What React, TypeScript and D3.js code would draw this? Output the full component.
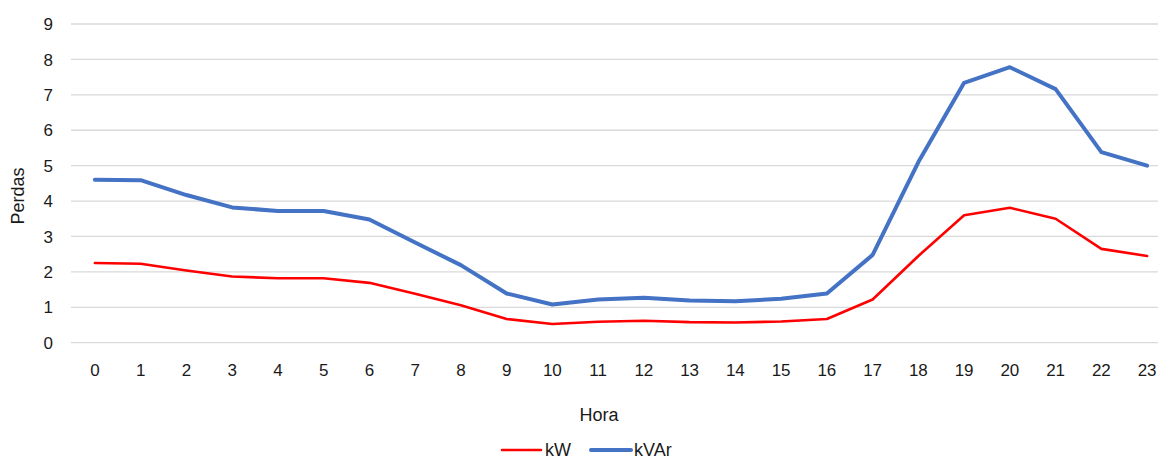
import React from "react";
import * as d3 from "d3";

const hours = ["0","1","2","3","4","5","6","7","8","9","10","11","12","13","14","15","16","17","18","19","20","21","22","23"];
const kW = [2.25, 2.23, 2.04, 1.87, 1.82, 1.82, 1.69, 1.38, 1.06, 0.67, 0.53, 0.59, 0.62, 0.58, 0.57, 0.60, 0.67, 1.22, 2.45, 3.60, 3.81, 3.50, 2.65, 2.45];
const kVAr = [4.60, 4.59, 4.17, 3.82, 3.72, 3.72, 3.48, 2.83, 2.19, 1.39, 1.08, 1.22, 1.27, 1.19, 1.17, 1.24, 1.39, 2.48, 5.10, 7.34, 7.78, 7.16, 5.38, 5.00];
const yTicks = [0, 1, 2, 3, 4, 5, 6, 7, 8, 9];

const W = 1158, H = 460;
const font = "'Liberation Sans', Arial, sans-serif";

export default function App() {
  const x = d3.scaleBand<string>().domain(hours).range([72, 1170]);
  const y = d3.scaleLinear().domain([0, 9]).range([342.7, 24]);
  const cx = (i: number) => (x(hours[i]) as number) + x.bandwidth() / 2;
  const line = d3.line<number>().x((_, i) => cx(i)).y((d) => y(d));
  return (
    <svg width={W} height={H} style={{ position: "absolute", left: 0, top: 0, background: "#fff" }} fontFamily={font}>
      {yTicks.map((t) => (
        <g key={t}>
          <line x1={71} x2={W} y1={y(t)} y2={y(t)} stroke="#D9D9D9" strokeWidth={1.3} />
          <text x={53} y={y(t)} dy="0.36em" textAnchor="end" fontSize={17} fill="#1a1a1a">{t}</text>
        </g>
      ))}
      {hours.map((h, i) => (
        <text key={h} x={cx(i)} y={376} textAnchor="middle" fontSize={17} fill="#1a1a1a">{h}</text>
      ))}
      <text x={599} y={421} textAnchor="middle" fontSize={18} fill="#1a1a1a">Hora</text>
      <text transform={`translate(24,${196}) rotate(-90)`} textAnchor="middle" fontSize={18} fill="#1a1a1a">Perdas</text>
      <path d={line(kW) || ""} fill="none" stroke="#FF0000" strokeWidth={2.6} strokeLinejoin="round" strokeLinecap="round" />
      <path d={line(kVAr) || ""} fill="none" stroke="#4472C4" strokeWidth={4} strokeLinejoin="round" strokeLinecap="round" />
      <line x1={502} x2={541} y1={450} y2={450} stroke="#FF0000" strokeWidth={2.6} strokeLinecap="round" />
      <text x={545} y={456} fontSize={18} fill="#1a1a1a">kW</text>
      <line x1={591} x2={631} y1={450} y2={450} stroke="#4472C4" strokeWidth={4} strokeLinecap="round" />
      <text x={634} y={456} fontSize={18} fill="#1a1a1a">kVAr</text>
    </svg>
  );
}
